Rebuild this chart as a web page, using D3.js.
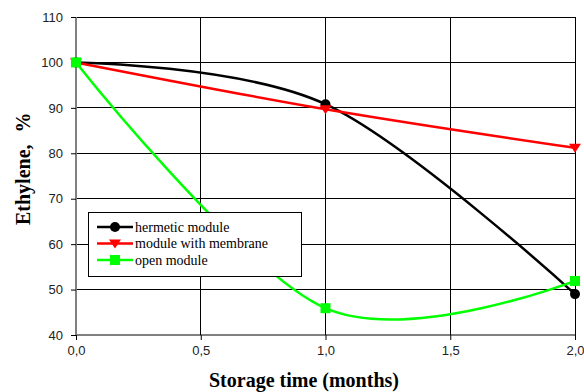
<!DOCTYPE html>
<html><head><meta charset="utf-8">
<script src="https://cdn.jsdelivr.net/npm/d3@7"></script>
<style>body{margin:0;background:#fff}svg{display:block}</style>
</head><body>
<svg id="c" width="584" height="392"></svg>
<script>
const xValues = [0, 1, 2];
const hermetic = [100, 90.8, 49.0];
const membrane = [100, 89.7, 81.2];
const openMod = [100, 45.9, 51.9];
const seriesNames = ["hermetic module", "module with membrane", "open module"];
const seriesColors = ["#000000", "#ff0000", "#00ff00"];
const xTicks = [0, 0.5, 1, 1.5, 2];
const yTicks = [40, 50, 60, 70, 80, 90, 100, 110];

const svg = d3.select("#c");
const L = 76, R = 575, T = 17, B = 335;
const x = d3.scaleLinear().domain([0, 2]).range([L, R]);
const y = d3.scaleLinear().domain([40, 110]).range([B, T]);

// grid
svg.append("g").selectAll("line").data(yTicks).join("line")
  .attr("x1", L).attr("x2", R).attr("y1", d => y(d)).attr("y2", d => y(d))
  .attr("stroke", d => d === 40 ? "#808080" : "#000").attr("stroke-width", d => d === 40 ? 2 : 1)
  .attr("shape-rendering", "crispEdges");
svg.append("g").selectAll("line").data(xTicks).join("line")
  .attr("x1", d => x(d)).attr("x2", d => x(d)).attr("y1", T).attr("y2", B)
  .attr("stroke", d => d === 0 ? "#808080" : "#000").attr("stroke-width", d => d === 0 ? 2 : 1)
  .attr("shape-rendering", "crispEdges");

// axes
const yAx = svg.append("g").attr("transform", `translate(${L},0)`)
  .call(d3.axisLeft(y).tickValues(yTicks).tickSize(5).tickPadding(8).tickFormat(d3.format("d")));
const xAx = svg.append("g").attr("transform", `translate(0,${B})`)
  .call(d3.axisBottom(x).tickValues(xTicks).tickSize(5).tickPadding(6).tickFormat(d => d3.format(".1f")(d).replace(".", ",")));
[yAx, xAx].forEach(a => {
  a.select(".domain").remove();
  a.selectAll("line").attr("stroke", "#000");
  a.selectAll("text").attr("font-family", "Liberation Sans, Arial, sans-serif").attr("font-size", 13).attr("fill", "#222");
});

const series = [hermetic, membrane, openMod];
const line = d3.line().x(d => x(d[0])).y(d => y(d[1])).curve(d3.curveCardinal.tension(0));

function marker(g, i, cx, cy) {
  if (i === 0) g.append("circle").attr("cx", cx).attr("cy", cy).attr("r", 5).attr("fill", seriesColors[i]);
  else if (i === 1) g.append("path").attr("d", `M${cx-6},${cy-4}L${cx+6},${cy-4}L${cx},${cy+5}Z`).attr("fill", seriesColors[i]);
  else g.append("rect").attr("x", cx-5).attr("y", cy-5).attr("width", 10).attr("height", 10).attr("fill", seriesColors[i]);
}

series.forEach((s, i) => {
  const pts = xValues.map((xv, j) => [xv, s[j]]);
  svg.append("path").attr("d", line(pts)).attr("fill", "none")
    .attr("stroke", seriesColors[i]).attr("stroke-width", 2.5);
});
series.forEach((s, i) => {
  const g = svg.append("g");
  xValues.forEach((xv, j) => marker(g, i, x(xv), y(s[j])));
});

// legend
const lg = svg.append("g");
lg.append("rect").attr("x", 88.5).attr("y", 212.5).attr("width", 213).attr("height", 64)
  .attr("fill", "#fff").attr("stroke", "#000").attr("stroke-width", 1);
seriesNames.forEach((n, i) => {
  const yy = 227 + i * 16.5;
  lg.append("line").attr("x1", 97).attr("x2", 133).attr("y1", yy).attr("y2", yy)
    .attr("stroke", seriesColors[i]).attr("stroke-width", 2.5);
  marker(lg, i, 115, yy);
  lg.append("text").attr("x", 135).attr("y", yy + 4.5).text(n)
    .attr("font-family", "Liberation Serif, Times New Roman, serif").attr("font-size", 14).attr("fill", "#000");
});

// titles
const yt = svg.append("text").attr("transform", "translate(30,225) rotate(-90)").attr("text-anchor", "start")
  .attr("font-family", "Liberation Serif, Times New Roman, serif").attr("font-weight", "bold").attr("font-size", 20);
yt.append("tspan").text("Ethylene,");
yt.append("tspan").attr("dx", 12).text("%");
svg.append("text").attr("x", 209).attr("y", 387).attr("text-anchor", "start")
  .attr("font-family", "Liberation Serif, Times New Roman, serif").attr("font-weight", "bold").attr("font-size", 20)
  .text("Storage time (months)");
</script>
</body></html>
